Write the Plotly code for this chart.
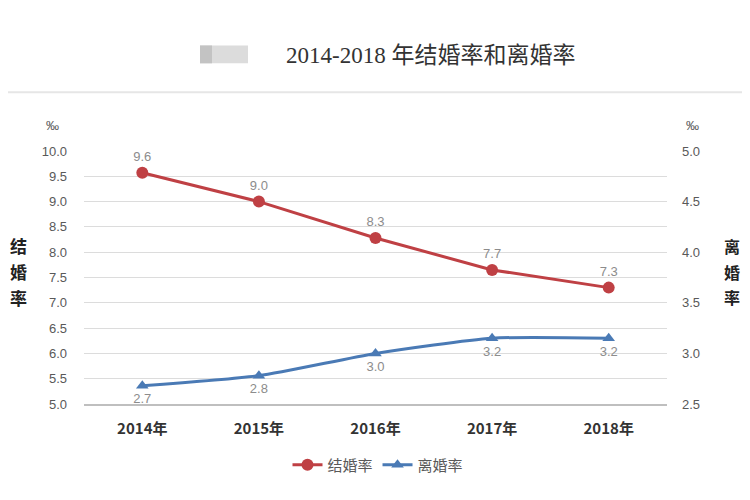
import plotly.graph_objects as go

years = ["2014年", "2015年", "2016年", "2017年", "2018年"]
marriage = [9.57, 9.0, 8.28, 7.65, 7.3]
marriage_labels = ["9.6", "9.0", "8.3", "7.7", "7.3"]
divorce = [2.68, 2.78, 3.0, 3.15, 3.15]
divorce_labels = ["2.7", "2.8", "3.0", "3.2", "3.2"]
left_ticks = [5.0, 5.5, 6.0, 6.5, 7.0, 7.5, 8.0, 8.5, 9.0, 9.5, 10.0]
right_ticks = [2.5, 3.0, 3.5, 4.0, 4.5, 5.0]

RED = "#bf4044"
BLUE = "#4a7ab5"
CJK = "Noto Sans CJK SC"

# page has an 8px body margin; reference pixel -> paper coords
def px(x):
    return (x - 84) / 583

def py(y):
    return (405 - y) / 254

fig = go.Figure()
fig.add_trace(go.Scatter(
    x=years, y=marriage, name="结婚率", mode="lines+markers+text",
    line=dict(color=RED, width=3),
    marker=dict(symbol="circle", size=12, color=RED),
    text=marriage_labels, textposition="top center",
    textfont=dict(color="#8c8c8c", size=13, family="Liberation Sans"),
    yaxis="y", cliponaxis=False,
))
fig.add_trace(go.Scatter(
    x=years, y=divorce, name="离婚率", mode="lines+markers+text",
    line=dict(color=BLUE, width=3, shape="spline", smoothing=0.6),
    marker=dict(symbol="triangle-up", size=11, color=BLUE),
    text=divorce_labels, textposition="bottom center",
    textfont=dict(color="#8c8c8c", size=13, family="Liberation Sans"),
    yaxis="y2", cliponaxis=False,
))

fig.update_layout(
    width=734, height=484,
    margin=dict(l=76, r=75, t=143, b=87),
    paper_bgcolor="white", plot_bgcolor="white",
    showlegend=True,
    legend=dict(orientation="h", x=px(378), xanchor="center", y=py(465), yanchor="middle",
                font=dict(family=CJK, size=15, color="#595959")),
    xaxis=dict(type="category", range=[-0.5, 4.5], showgrid=False,
               showline=True, linecolor="#bfbfbf", linewidth=2,
               ticks="", ticklabelstandoff=10,
               tickfont=dict(family=CJK, size=15, color="#333333", weight="bold"),
               zeroline=False),
    yaxis=dict(range=[5.0, 10.0], tickvals=left_ticks, tickformat=".1f",
               showgrid=True, gridcolor="#dcdcdc", gridwidth=1,
               showline=False, zeroline=False, ticks="", ticklabelstandoff=16,
               tickfont=dict(family="Liberation Sans", size=13, color="#595959")),
    yaxis2=dict(range=[2.5, 5.0], tickvals=right_ticks, tickformat=".1f",
                overlaying="y", side="right", showgrid=False,
                showline=False, zeroline=False, ticks="", ticklabelstandoff=14,
                tickfont=dict(family="Liberation Sans", size=13, color="#595959")),
)

# Header separator and blurred box
fig.add_shape(type="line", xref="paper", yref="paper", x0=px(-20), x1=px(770),
              y0=py(92), y1=py(92), line=dict(color="#e6e6e6", width=2))
fig.add_shape(type="rect", xref="paper", yref="paper",
              x0=px(200), x1=px(248), y0=py(63), y1=py(45),
              fillcolor="#dcdcdc", line=dict(width=0))
fig.add_shape(type="rect", xref="paper", yref="paper",
              x0=px(200), x1=px(212), y0=py(63), y1=py(45),
              fillcolor="#b8b8b8", line=dict(width=0), opacity=0.7)

def note(text, x, y, size, color, family, weight="normal"):
    fig.add_annotation(text=text, xref="paper", yref="paper", x=px(x), y=py(y),
                       xanchor="center", yanchor="middle", showarrow=False,
                       font=dict(family=family, size=size, color=color, weight=weight))

note("2014-2018 年结婚率和离婚率", 430, 55, 23, "#333333", "Liberation Serif, " + CJK)
note("‰", 52, 125, 13, "#595959", "Liberation Sans")
note("‰", 692, 125, 13, "#595959", "Liberation Sans")
for i, ch in enumerate("结婚率"):
    note(ch, 18, 246 + 26 * i, 17, "#222222", CJK, "bold")
for i, ch in enumerate("离婚率"):
    note(ch, 732, 246 + 26 * i, 16, "#222222", CJK, "bold")

fig.write_html("out.html")
